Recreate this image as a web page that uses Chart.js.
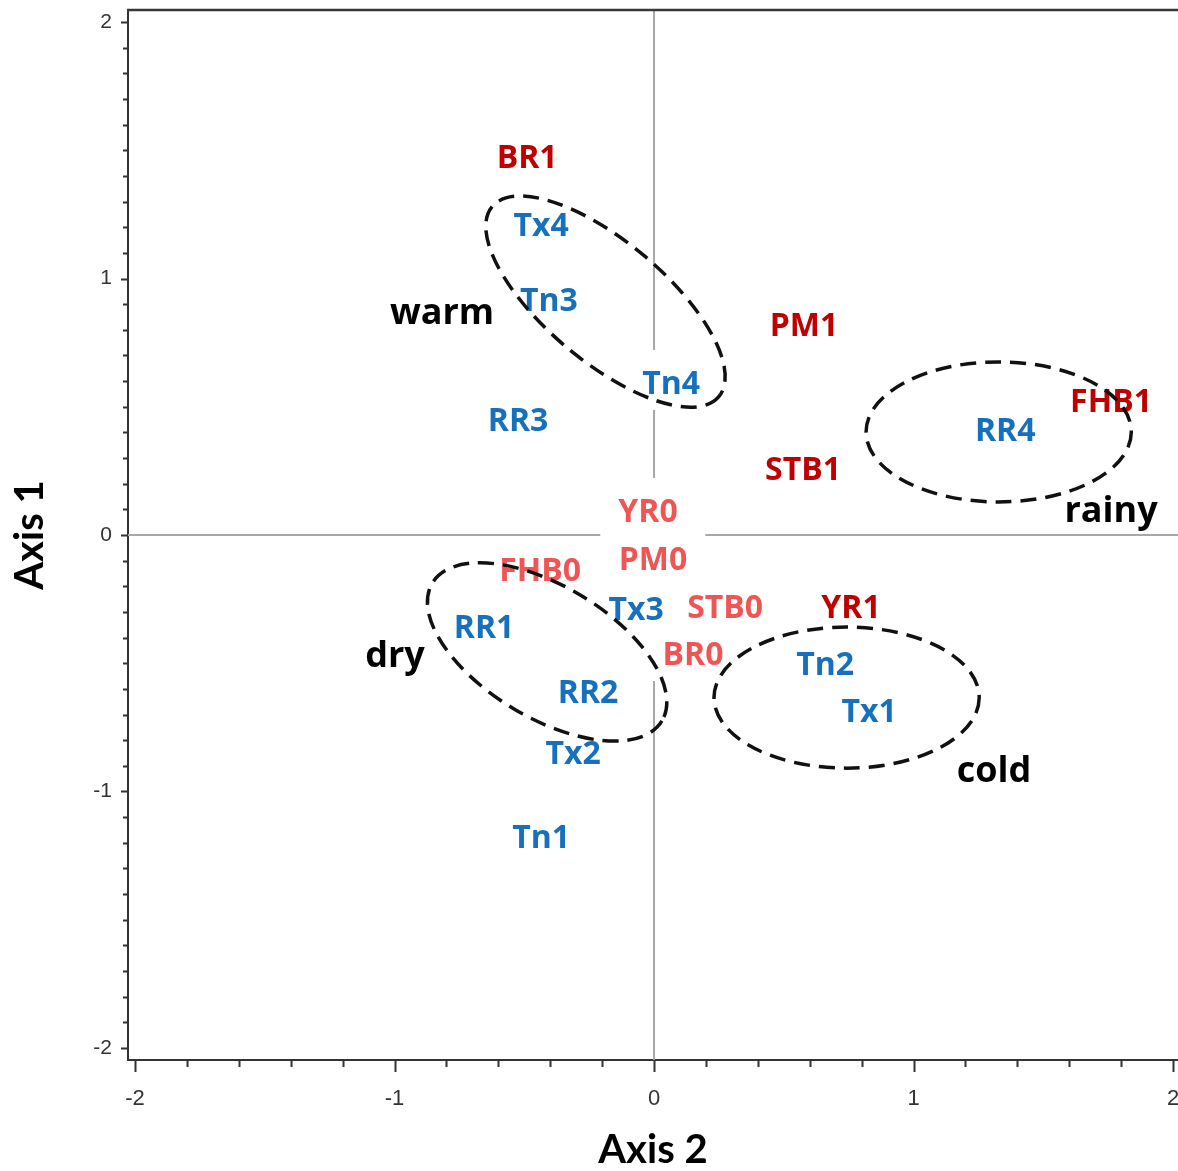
<!DOCTYPE html>
<html>
<head>
<meta charset="utf-8">
<script src="https://cdn.jsdelivr.net/npm/chart.js@4.4.1/dist/chart.umd.min.js"></script>
<style>
  html, body { margin: 0; padding: 0; background: #fff; }
  #wrap { width: 1178px; height: 1171px; }
</style>
</head>
<body>
<div id="wrap"><canvas id="chart"></canvas></div>
<script>
// disease present (dark red)
const disease1Labels = ['BR1', 'PM1', 'FHB1', 'STB1', 'YR1'];
const disease1X = [-0.489, 0.578, 1.761, 0.574, 0.759];
const disease1Y = [1.474, 0.819, 0.522, 0.257, -0.281];

// disease absent (light red)
const disease0Labels = ['YR0', 'PM0', 'FHB0', 'STB0', 'BR0'];
const disease0X = [-0.023, -0.004, -0.439, 0.274, 0.150];
const disease0Y = [0.094, -0.094, -0.136, -0.281, -0.464];

// climate variables (blue)
const climateLabels = ['Tx4', 'Tn3', 'Tn4', 'RR3', 'RR4', 'Tx3', 'RR1', 'RR2', 'Tn2', 'Tx1', 'Tx2', 'Tn1'];
const climateX = [-0.435, -0.405, 0.066, -0.524, 1.353, -0.069, -0.655, -0.254, 0.659, 0.829, -0.312, -0.435];
const climateY = [1.209, 0.916, 0.593, 0.448, 0.409, -0.288, -0.359, -0.612, -0.503, -0.686, -0.850, -1.177];

// group names (black)
const groupLabels = ['warm', 'rainy', 'dry', 'cold'];
const groupX = [-0.817, 1.761, -0.998, 1.310];
const groupY = [0.860, 0.090, -0.476, -0.924];

// dashed ellipses round the groups
const ellipseCenterX = [-0.187, 1.328, -0.412, 0.742];
const ellipseCenterY = [0.910, 0.402, -0.456, -0.634];
const ellipseRadiusX = [0.570, 0.511, 0.516, 0.511];
const ellipseRadiusY = [0.234, 0.273, 0.257, 0.275];
const ellipseAngle = [40, 0, 31, 0];

// axis ticks
const xTickValues = [-2, -1, 0, 1, 2];
const xTickLabels = ['-2', '-1', '0', '1', '2'];
const yTickValues = [-2, -1, 0, 1, 2];
const yTickLabels = ['-2', '-1', '0', '1', '2'];
const xMinorStep = 0.2;
const yMinorStep = 0.1;

const toPoints = (xs, ys) => xs.map((v, i) => ({ x: v, y: ys[i] }));

const labelFont = 'bold 32px "Open Sans"';
const groupFont = 'bold 36px "Open Sans"';

const annotatePlugin = {
    id: 'annotate',
    beforeDatasetsDraw(chart) {
        const { ctx, chartArea, scales: { x, y } } = chart;
        ctx.save();
        // lignes du zéro
        ctx.strokeStyle = '#a8a8a8';
        ctx.lineWidth = 2;
        const x0 = x.getPixelForValue(0), y0 = y.getPixelForValue(0);
        ctx.beginPath();
        ctx.moveTo(x0, chartArea.top);
        ctx.lineTo(x0, chartArea.bottom);
        ctx.moveTo(chartArea.left, y0);
        ctx.lineTo(chartArea.right, y0);
        ctx.stroke();

        // cadre du haut
        ctx.strokeStyle = '#383838';
        ctx.lineWidth = 2.5;
        ctx.beginPath();
        ctx.moveTo(chartArea.left - 1, chartArea.top);
        ctx.lineTo(chartArea.right, chartArea.top);
        ctx.stroke();

        // graduations
        ctx.strokeStyle = '#333';
        ctx.lineWidth = 2;
        ctx.beginPath();
        for (let k = 0; k <= Math.round(4 / xMinorStep); k++) {
            const v = -2 + k * xMinorStep;
            const major = Math.abs(v - Math.round(v)) < 1e-6;
            const px = Math.round(x.getPixelForValue(v)) + 0.5;
            ctx.moveTo(px, chartArea.bottom);
            ctx.lineTo(px, chartArea.bottom + (major ? 12 : 7));
        }
        for (let k = 0; k <= Math.round(4 / yMinorStep); k++) {
            const v = -2 + k * yMinorStep;
            const major = Math.abs(v - Math.round(v)) < 1e-6;
            const py = Math.round(y.getPixelForValue(v)) + 0.5;
            ctx.moveTo(chartArea.left, py);
            ctx.lineTo(chartArea.left - (major ? 7 : 5), py);
        }
        ctx.stroke();
        ctx.restore();
    },
    afterDatasetsDraw(chart) {
        const { ctx, scales: { x, y } } = chart;
        ctx.save();
        const items = [];
        chart.data.datasets.forEach((ds, di) => {
            const meta = chart.getDatasetMeta(di);
            meta.data.forEach((el, i) => {
                items.push({ text: ds.names[i], x: el.x, y: el.y, color: ds.textColor, boxed: ds.boxed, font: ds.font, shift: ds.shift });
            });
        });

        // fonds blancs des étiquettes
        ctx.fillStyle = '#fff';
        items.forEach(it => {
            if (!it.boxed) return;
            ctx.font = it.font;
            const w = ctx.measureText(it.text).width;
            ctx.fillRect(it.x - w / 2 - 18, it.y - 33, w + 36, 60);
        });

        // textes
        ctx.textAlign = 'center';
        ctx.textBaseline = 'alphabetic';
        items.forEach(it => {
            ctx.font = it.font;
            ctx.fillStyle = it.color;
            ctx.fillText(it.text, it.x, it.y + it.shift);
        });

        // ellipses en tirets
        ctx.strokeStyle = '#111';
        ctx.lineWidth = 3.5;
        ctx.setLineDash([16, 9]);
        ellipseCenterX.forEach((cxv, i) => {
            const cx = x.getPixelForValue(cxv);
            const cy = y.getPixelForValue(ellipseCenterY[i]);
            const rx = x.getPixelForValue(cxv + ellipseRadiusX[i]) - cx;
            const ry = cy - y.getPixelForValue(ellipseCenterY[i] + ellipseRadiusY[i]);
            ctx.beginPath();
            ctx.ellipse(cx, cy, rx, ry, ellipseAngle[i] * Math.PI / 180, 0, Math.PI * 2);
            ctx.stroke();
        });
        ctx.restore();
    }
};

const ctx = document.getElementById('chart').getContext('2d');
const chart = new Chart(ctx, {
    type: 'scatter',
    data: {
        datasets: [
            { names: disease1Labels, data: toPoints(disease1X, disease1Y), textColor: '#c00000', boxed: true, font: labelFont, shift: 11 },
            { names: disease0Labels, data: toPoints(disease0X, disease0Y), textColor: '#f05555', boxed: true, font: labelFont, shift: 11 },
            { names: climateLabels, data: toPoints(climateX, climateY), textColor: '#1670bd', boxed: true, font: labelFont, shift: 11 },
            { names: groupLabels, data: toPoints(groupX, groupY), textColor: '#000', boxed: false, font: groupFont, shift: 10 }
        ]
    },
    options: {
        responsive: true,
        maintainAspectRatio: false,
        animation: false,
        events: [],
        layout: { padding: { top: 10, right: 0, bottom: 0, left: 0 } },
        elements: { point: { radius: 0, hoverRadius: 0 } },
        plugins: { legend: { display: false }, tooltip: { enabled: false } },
        scales: {
            x: {
                type: 'linear',
                min: -2.027,
                max: 2.019,
                grid: { display: false, drawTicks: false },
                border: { display: true, color: '#333', width: 2 },
                afterBuildTicks: s => { s.ticks = xTickValues.map(v => ({ value: v })); },
                ticks: {
                    autoSkip: false,
                    maxRotation: 0,
                    padding: 26,
                    color: '#333',
                    font: { family: '"Liberation Sans", Arial', size: 22 },
                    callback: (v, i) => xTickLabels[i]
                },
                title: {
                    display: true,
                    text: 'Axis 2',
                    color: '#000',
                    padding: { top: 0, bottom: 1 },
                    font: { family: 'Lato', weight: 'bold', size: 40, lineHeight: 1 }
                },
                afterFit: s => { s.height = 111; s.paddingLeft = 0; s.paddingRight = 0; }
            },
            y: {
                type: 'linear',
                min: -2.047,
                max: 2.047,
                grid: { display: false, drawTicks: false },
                border: { display: true, color: '#333', width: 2 },
                afterBuildTicks: s => { s.ticks = yTickValues.map(v => ({ value: v })); },
                ticks: {
                    autoSkip: false,
                    padding: 16,
                    color: '#333',
                    font: { family: '"Liberation Sans", Arial', size: 21 },
                    callback: (v, i) => yTickLabels[i]
                },
                title: {
                    display: true,
                    text: 'Axis 1',
                    color: '#000',
                    padding: { top: 10, bottom: 0 },
                    font: { family: 'Lato', weight: 'bold', size: 40, lineHeight: 1 }
                },
                afterFit: s => { s.width = 128; s.paddingTop = 0; s.paddingBottom = 0; }
            }
        }
    },
    plugins: [annotatePlugin]
});
</script>
</body>
</html>
